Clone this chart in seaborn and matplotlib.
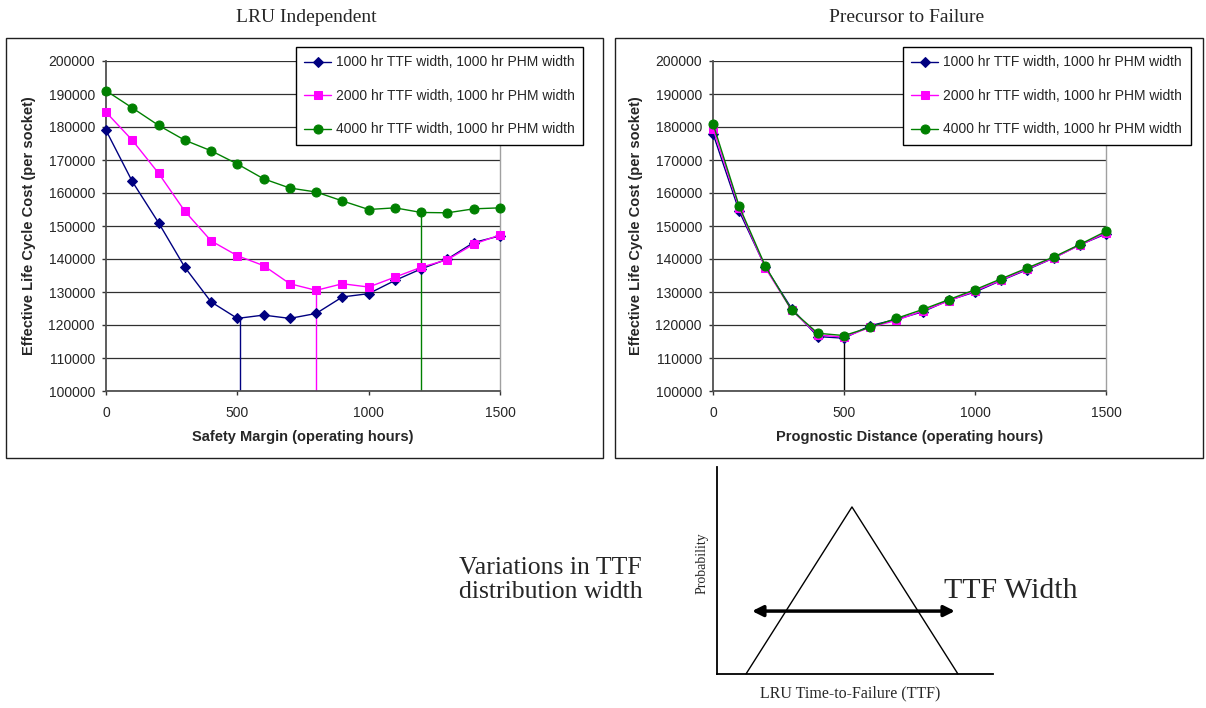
import numpy as np
import pandas as pd
import matplotlib
matplotlib.use("Agg")
import matplotlib.pyplot as plt
from matplotlib.patches import Rectangle
import seaborn as sns

# ---- data ----
hours = [0, 100, 200, 300, 400, 500, 600, 700, 800, 900, 1000, 1100, 1200, 1300, 1400, 1500]
labels = ["1000 hr TTF width, 1000 hr PHM width",
          "2000 hr TTF width, 1000 hr PHM width",
          "4000 hr TTF width, 1000 hr PHM width"]

# LRU Independent (safety margin)
lru_1000 = [179000, 163500, 151000, 137500, 127000, 122000, 123000, 122000,
            123500, 128500, 129500, 133500, 137000, 140000, 145000, 147000]
lru_2000 = [184500, 176000, 166000, 154500, 145500, 141000, 138000, 132500,
            130500, 132500, 131500, 134500, 137500, 139800, 144500, 147300]
lru_4000 = [191000, 185800, 180500, 176000, 172800, 168800, 164300, 161500,
            160300, 157600, 155000, 155500, 154100, 154000, 155200, 155500]
lru_min_x = [510, 800, 1200]
lru_min_y = [122000, 130500, 154000]

# Precursor to Failure (prognostic distance)
pre_1000 = [178000, 154500, 137500, 125000, 116500, 116000, 119800, 121700,
            124000, 127500, 130000, 133500, 136800, 140300, 144300, 147600]
pre_2000 = [179500, 155500, 137300, 124500, 117000, 116300, 119300, 121400,
            124300, 127300, 130300, 133600, 137000, 140300, 144200, 147900]
pre_4000 = [181000, 156000, 137800, 124500, 117500, 116800, 119300, 122000,
            124700, 127700, 130700, 134000, 137300, 140600, 144400, 148400]
pre_min_x = [500]
pre_min_y = [116000]

colors = ["#000080", "#FF00FF", "#008000"]
markers = ["D", "s", "o"]
msizes = [5, 6, 6.5]

# schematic of the TTF distribution (axes fraction units)
tri_x = [0.105, 0.489, 0.873]
tri_y = [0.0, 0.807, 0.0]
arrow_x = [0.127, 0.862]
arrow_y = 0.304

sns.set_style("white")
plt.rcParams['font.family'] = ['Liberation Sans', 'DejaVu Sans']

W, H = 1206, 708
fig = plt.figure(figsize=(W / 100, H / 100), dpi=100)


def px_axes(x0, y0, x1, y1):
    return fig.add_axes([x0 / W, 1 - y1 / H, (x1 - x0) / W, (y1 - y0) / H])


def cost_panel(ax, series, min_x, min_y, min_colors, xlabel, leg_left):
    for vals, c, m, ms, lbl in zip(series, colors, markers, msizes, labels):
        sns.lineplot(x=hours, y=vals, ax=ax, color=c, marker=m, markersize=ms,
                     markeredgecolor=c, linewidth=1, label=lbl, clip_on=False,
                     zorder=3)
    ax.vlines(min_x, 100000, min_y, colors=min_colors, linewidth=1, zorder=2)
    ax.set_xlim(0, 1500)
    ax.set_ylim(100000, 200000)
    ax.set_xticks([0, 500, 1000, 1500])
    ax.set_yticks(np.arange(100000, 200001, 10000))
    ax.yaxis.grid(True, color="#303030", linewidth=0.9)
    ax.xaxis.grid(False)
    ax.tick_params(axis="both", labelsize=10, length=3, width=1, color="#333333",
                   direction="out")
    ax.tick_params(axis="y", pad=5, left=True)
    ax.tick_params(axis="x", pad=8, bottom=True)
    for s in ["left", "bottom"]:
        ax.spines[s].set_color("#505050")
        ax.spines[s].set_linewidth(1.3)
    ax.spines["right"].set_color("#a0a0a0")
    ax.spines["right"].set_linewidth(1)
    ax.spines["top"].set_visible(False)
    ax.set_xlabel(xlabel, fontsize=10.5, fontweight="bold")
    ax.set_ylabel("Effective Life Cycle Cost (per socket)", fontsize=10.5,
                  fontweight="bold")
    ax.xaxis.set_label_coords(0.5, -0.139)
    ax.xaxis.label.set_va("center")
    ax.yaxis.set_label_coords(-0.195, 0.5)
    ax.yaxis.label.set_va("center")
    leg = ax.legend(loc="upper left", bbox_to_anchor=(leg_left, 1.042),
                    borderaxespad=0, fontsize=10, frameon=True, fancybox=False,
                    edgecolor="black", framealpha=1, borderpad=0.6,
                    labelspacing=1.4, handlelength=1.95, handletextpad=0.35)
    leg.get_frame().set_linewidth(1)
    leg.set_zorder(5)


ax1 = px_axes(106, 61, 500, 391)
cost_panel(ax1, [lru_1000, lru_2000, lru_4000], lru_min_x, lru_min_y, colors,
           "Safety Margin (operating hours)", 0.482)

ax2 = px_axes(713, 61, 1106, 391)
cost_panel(ax2, [pre_1000, pre_2000, pre_4000], pre_min_x, pre_min_y, ["black"],
           "Prognostic Distance (operating hours)", 0.4835)

# outer frames and titles
for x0, x1 in [(6, 603), (615, 1203)]:
    fig.add_artist(Rectangle((x0 / W, 1 - 458 / H), (x1 - x0) / W, 420 / H,
                             transform=fig.transFigure, fill=False,
                             edgecolor="#202020", linewidth=1))
fig.text(306 / W, 1 - 18 / H, "LRU Independent", ha="center", va="center",
         fontsize=14, family="Liberation Serif")
fig.text(907 / W, 1 - 18 / H, "Precursor to Failure", ha="center", va="center",
         fontsize=14, family="Liberation Serif")

# TTF distribution sketch
ax3 = px_axes(717, 467, 993, 674)
ax3.set_xlim(0, 1)
ax3.set_ylim(0, 1)
ax3.plot(tri_x, tri_y, color="black", linewidth=1, clip_on=False)
ax3.annotate("", xy=(arrow_x[1], arrow_y), xytext=(arrow_x[0], arrow_y),
             arrowprops=dict(arrowstyle="<|-|>", color="black", lw=2.5,
                             mutation_scale=16, shrinkA=0, shrinkB=0))
ax3.set_xticks([])
ax3.set_yticks([])
for s in ["top", "right"]:
    ax3.spines[s].set_visible(False)
for s in ["left", "bottom"]:
    ax3.spines[s].set_color("black")
    ax3.spines[s].set_linewidth(1.3)

fig.text(702 / W, 1 - 563 / H, "Probability", rotation=90, ha="center",
         va="center", fontsize=10, family="Liberation Serif")
fig.text(850 / W, 1 - 693 / H, "LRU Time-to-Failure (TTF)", ha="center",
         va="center", fontsize=11.5, family="Liberation Serif")
fig.text(944 / W, 1 - 591 / H, "TTF Width", ha="left", va="center",
         fontsize=21.5, family="Liberation Serif")
fig.text(459 / W, 1 - 580 / H, "Variations in TTF\ndistribution width",
         ha="left", va="center", fontsize=18.5, family="Liberation Serif",
         linespacing=1.15)

fig.savefig("out.png", dpi=100)
